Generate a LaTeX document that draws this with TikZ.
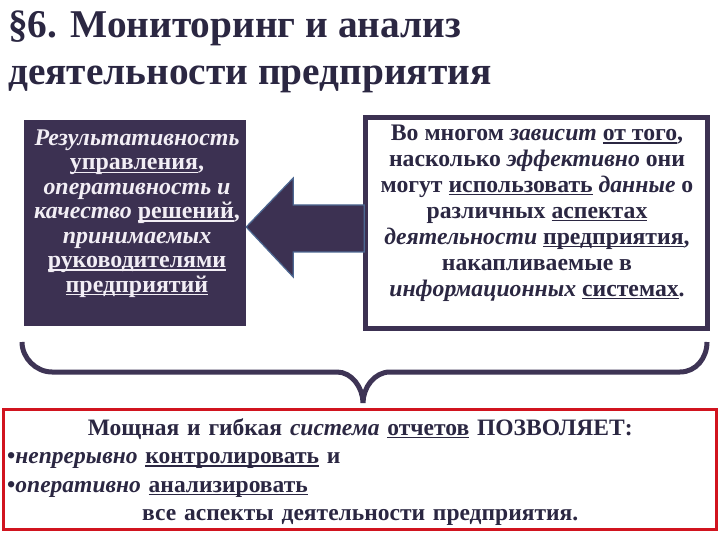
\documentclass[tikz,border=0pt]{standalone}
\usepackage{fontspec}
\setmainfont{Liberation Serif}
\usepackage{xcolor}
\usetikzlibrary{positioning}
\definecolor{navyink}{HTML}{2B2742}
\definecolor{boxpurple}{HTML}{3C3152}
\definecolor{arrowedge}{HTML}{4D6892}
\definecolor{bracecol}{HTML}{3E3455}
\definecolor{reportred}{HTML}{D1141F}
\definecolor{paletext}{HTML}{F2EEF5}
\newsavebox{\ulnbox}
\newcommand{\uln}[1]{\sbox\ulnbox{#1}\rlap{\rule[-0.13em]{\wd\ulnbox}{0.06em}}\usebox\ulnbox}
\tikzset{
  headline/.style={anchor=base west,align=left,inner sep=0pt,text=navyink,
                   font=\fontsize{39.5}{48}\selectfont\bfseries},
  darkbox/.style={fill=boxpurple,minimum width=222bp,minimum height=206bp,inner sep=0pt},
  lightbox/.style={draw=boxpurple,fill=white,line width=5bp,
                   minimum width=342bp,minimum height=211bp,inner sep=0pt},
  redbox/.style={draw=reportred,fill=white,line width=3bp,
                 minimum width=713bp,minimum height=120bp,inner sep=0pt},
  darktext/.style={anchor=base,align=center,inner sep=0pt,text=paletext,
                   font=\fontsize{24}{24.5}\selectfont\bfseries},
  lighttext/.style={anchor=base,align=center,inner sep=0pt,text=navyink,
                    font=\fontsize{23.8}{26}\selectfont\bfseries},
  reporttext/.style={anchor=base west,align=left,inner sep=0pt,text=navyink,text width=706bp,
                     font=\fontsize{23.6}{28.7}\selectfont\bfseries},
  blockarrow/.style={fill=boxpurple,draw=arrowedge,line width=1.2bp,line join=miter},
  bracepath/.style={draw=bracecol,line width=5bp}
}

\begin{document}
\begin{tikzpicture}[x=1bp,y=-1bp]
  \useasboundingbox[fill=white] (0,0) rectangle (720,540);

  \node[headline] (title) at (8,85) {§6. Мониторинг и анализ\\деятельности предприятия};

  \node[darkbox] (resbox) at (135,223) {};
  \node[lightbox] (databox) at (536.5,223) {};

  % big arrow from the data box back to the left box
  \draw[blockarrow] ([yshift=-4bp]resbox.east) -- ++(47,-49) -- ++(0,27) -- ++(71,0)
    -- ++(0,47) -- ++(-71,0) -- ++(0,25) -- cycle;

  \node[darktext] (restext) at (137,292)
    {\textit{Результативность}\\ \uln{управления},\\ \textit{оперативность и}\\
     \textit{качество} \uln{решений},\\ \textit{принимаемых}\\ \uln{руководителями}\\
     \uln{предприятий}};

  \node[lighttext] (datatext) at (537,296)
    {Во многом \textit{зависит} \uln{от того},\\ насколько \textit{эффективно} они\\
     могут \uln{использовать} \textit{данные} о\\ различных \uln{аспектах}\\
     \textit{деятельности} \uln{предприятия},\\ накапливаемые в\\
     \textit{информационных} \uln{системах}.};

  \node[redbox] (reportbox) at (360,469.5) {};
  \node[reporttext] (reportlines) at (7,435)
    {\makebox[706bp][c]{Мощная и гибкая \textit{система} \uln{отчетов} ПОЗВОЛЯЕТ:}\\
     •\textit{непрерывно} \uln{контролировать} и\\
     •\textit{оперативно} \uln{анализировать}\\
     \makebox[706bp][c]{все аспекты деятельности предприятия.}};

  % brace under both boxes
  \coordinate (braceL) at (22,342);
  \coordinate (braceR) at (707,342);
  \coordinate (braceTip) at (363,403);
  \draw[bracepath] (braceL) .. controls (22,358) and (36,372) .. (52,372) -- (337,372)
    .. controls (352,372) and (363,388) .. (braceTip)
    .. controls (363,388) and (374,372) .. (390,372) -- (680,372)
    .. controls (696,372) and (707,358) .. (braceR);
\end{tikzpicture}
\end{document}
